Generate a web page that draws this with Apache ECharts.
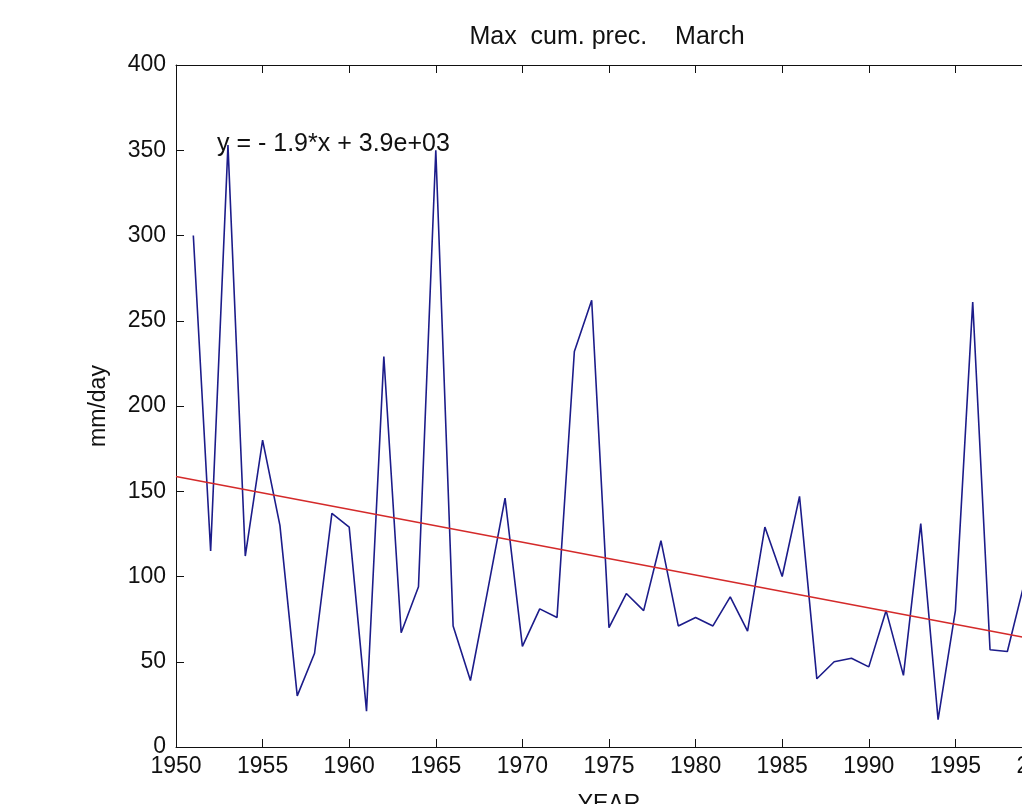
<!DOCTYPE html>
<html>
<head>
<meta charset="utf-8">
<script src="https://cdn.jsdelivr.net/npm/echarts@6/dist/echarts.min.js"></script>
<style>
  html, body { margin: 0; padding: 0; background: #fff; overflow: hidden; }
  #chart { width: 1100px; height: 804px; }
</style>
</head>
<body>
<div id="chart"></div>
<script>
const years = [
  1951, 1952, 1953, 1954, 1955, 1956, 1957, 1958, 1959, 1960,
  1961, 1962, 1963, 1964, 1965, 1966, 1967, 1968, 1969, 1970,
  1971, 1972, 1973, 1974, 1975, 1976, 1977, 1978, 1979, 1980,
  1981, 1982, 1983, 1984, 1985, 1986, 1987, 1988, 1989, 1990,
  1991, 1992, 1993, 1994, 1995, 1996, 1997, 1998, 1999
];
const maxPrec = [
  300, 115, 353, 112, 180, 130, 30, 55, 137, 129,
  21, 229, 67, 94, 350, 71, 39, 92, 146, 59,
  81, 76, 232, 262, 70, 90, 80, 121, 71, 76,
  71, 88, 68, 129, 100, 147, 40, 50, 52, 47,
  80, 42, 131, 16, 80, 261, 57, 56, 97
];
// fitted trend line end points
const trendYears = [1950, 2000];
const trendValues = [158.6, 62.3];

const titleText = "Max  cum. prec.    March";
const fitLabel = "y = - 1.9*x + 3.9e+03";

const font = "'Liberation Sans', Arial, sans-serif";
const ink = "#111";

const chart = echarts.init(document.getElementById("chart"));

const axisBase = {
  type: "value",
  axisLine: { show: true, onZero: false, lineStyle: { color: ink, width: 1 } },
  axisTick: { show: true, inside: true, length: 8, lineStyle: { color: ink } },
  splitLine: { show: false },
};

chart.setOption({
  backgroundColor: "#fff",
  animation: false,
  grid: {
    left: 176, right: 58, top: 65, bottom: 57,
    containLabel: false, outerBoundsMode: "none",
  },
  xAxis: [
    {
      ...axisBase,
      min: 1950, max: 2000, interval: 5,
      position: "bottom",
      axisLabel: {
        color: ink, fontSize: 23, fontFamily: font, margin: 8,
        formatter: (v) => String(v),
      },
      name: "YEAR",
      nameLocation: "middle",
      nameGap: 46,
      nameTextStyle: { color: ink, fontSize: 23, fontFamily: font },
    },
    {
      ...axisBase,
      min: 1950, max: 2000, interval: 5,
      position: "top",
      axisLabel: { show: false },
    },
  ],
  yAxis: [
    {
      ...axisBase,
      min: 0, max: 400, interval: 50,
      position: "left",
      axisLabel: { color: ink, fontSize: 23, fontFamily: font, margin: 10 },
      name: "mm/day",
      nameLocation: "middle",
      nameGap: 66,
      nameRotate: 90,
      nameTextStyle: { color: ink, fontSize: 23, fontFamily: font },
    },
    {
      ...axisBase,
      min: 0, max: 400, interval: 50,
      position: "right",
      axisLabel: { show: false },
    },
  ],
  series: [
    {
      type: "line",
      data: years.map((y, i) => [y, maxPrec[i]]),
      showSymbol: false,
      lineStyle: { color: "#1c1c8a", width: 1.6 },
      z: 2,
    },
    {
      type: "line",
      data: trendYears.map((y, i) => [y, trendValues[i]]),
      showSymbol: false,
      lineStyle: { color: "#d42a2a", width: 1.5 },
      z: 3,
    },
  ],
  graphic: [
    {
      type: "text",
      x: 607, y: 37,
      style: {
        text: titleText, fill: ink, fontSize: 25, fontFamily: font,
        align: "center", verticalAlign: "middle",
      },
    },
    {
      type: "text",
      x: 217, y: 144,
      style: {
        text: fitLabel, fill: ink, fontSize: 25, fontFamily: font,
        align: "left", verticalAlign: "middle",
      },
      z: 10,
    },
  ],
});
</script>
</body>
</html>
